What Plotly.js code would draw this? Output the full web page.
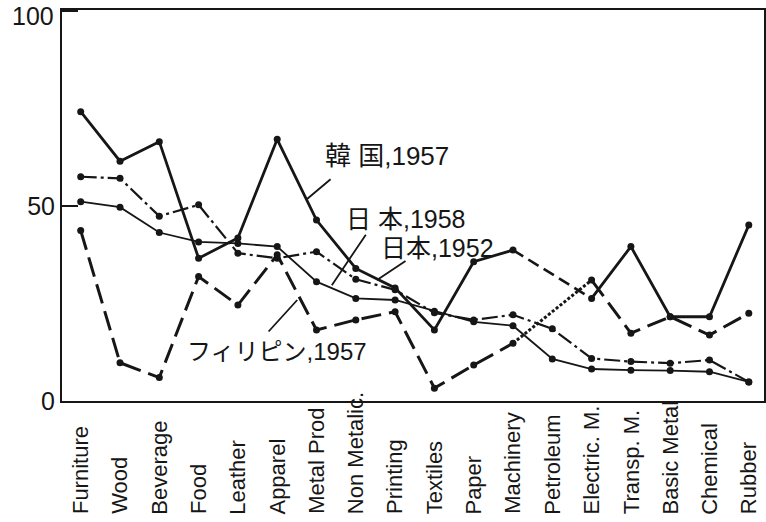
<!DOCTYPE html>
<html>
<head>
<meta charset="utf-8">
<script src="https://cdn.plot.ly/plotly-3.0.1.min.js"></script>
<style>html,body{margin:0;padding:0;background:#fff;}</style>
</head>
<body>
<div id="chart" style="width:766px;height:522px;"></div>
<script>
// ---- data ----
var categories = ["Furniture","Wood","Beverage","Food","Leather","Apparel","Metal Prod","Non Metalic.","Printing","Textiles","Paper","Machinery","Petroleum","Electric. M.","Transp. M.","Basic Metal","Chemical","Rubber"];
var korea1957 = [74.2, 61.5, 66.5, 36.6, 41.8, 67.1, 46.4, 34.0, 29.0, 18.2, 35.7, 38.7, null, 26.3, 39.6, 21.6, 21.6, 45.1];
var koreaGap  = [null, null, null, null, null, null, null, null, null, null, null, 38.7, null, 26.3, null, null, null, null];
var japan1958 = [51.1, 49.7, 43.2, 40.8, 40.4, 39.6, 30.6, 26.3, 25.9, 23.0, 20.3, 19.3, 10.8, 8.2, 7.9, 7.8, 7.5, 4.9];
var japan1952 = [57.5, 57.1, 47.4, 50.3, 37.9, 36.6, 38.3, 31.2, 28.5, 22.6, 20.8, 22.1, 18.5, 10.9, 10.1, 9.7, 10.5, 4.9];
var phil1957  = [43.7, 9.8, 6.0, 31.9, 24.6, 37.5, 18.2, 20.8, 22.9, 3.3, 9.2, 14.8, null, 31.0, 17.4, 21.6, 16.9, 22.5];
var philGap   = [null, null, null, null, null, null, null, null, null, null, null, 14.8, null, 31.0, null, null, null, null];
var yTicks = [0, 50, 100];
var seriesNames = ["韓 国,1957", "日 本,1958", "日本,1952", "フィリピン,1957"];

var ink = "#161616";
var sans = "Liberation Sans, Arial, Noto Sans CJK JP, sans-serif";

function tr(y, name, dash, width, showMarkers, connect) {
  return {
    x: categories, y: y, name: name, type: "scatter",
    mode: showMarkers ? "lines+markers" : "lines",
    connectgaps: !!connect,
    line: {color: ink, width: width, dash: dash},
    marker: {color: ink, size: 7},
    hoverinfo: "skip"
  };
}

var data = [
  tr(japan1958, seriesNames[1], "solid", 1.8, true),
  tr(japan1952, seriesNames[2], "16px,4px,3px,4px", 2.2, true),
  tr(philGap, seriesNames[3], "3px,2px", 3, false, true),
  tr(phil1957, seriesNames[3], "20px,8px", 3, true),
  tr(koreaGap, seriesNames[0], "12px,6px", 2.6, false, true),
  tr(korea1957, seriesNames[0], "solid", 2.8, true)
];

var annotations = [];
categories.forEach(function(c) {
  annotations.push({
    x: c, xref: "x", y: -0.295, yref: "paper",
    text: c, textangle: -90, showarrow: false,
    xanchor: "center", yanchor: "bottom",
    font: {family: sans, size: 22, color: ink}
  });
});

// top y tick label (drawn as annotation because it sits on the plot edge)
annotations.push({
  x: 0, xref: "paper", y: yTicks[yTicks.length - 1], yref: "y",
  text: String(yTicks[yTicks.length - 1]), showarrow: false,
  xanchor: "right", yanchor: "top", xshift: -6, yshift: 11,
  font: {family: sans, size: 25, color: ink}
});

// series labels
function label(text, x, y, size) {
  annotations.push({x: x, y: y, xref: "x", yref: "y", text: text, showarrow: false,
    xanchor: "center", yanchor: "middle", font: {family: sans, size: size, color: ink}});
}
// leader lines (head on the series line, tail toward its label, pixel offsets)
function leader(hx, hy, ax, ay) {
  annotations.push({x: hx, y: hy, xref: "x", yref: "y", ax: ax, ay: ay,
    text: "", showarrow: true, arrowhead: 0, arrowwidth: 1.8, arrowcolor: ink});
}
label(seriesNames[0], 7.79, 62.8, 26);
label(seriesNames[1], 8.28, 46.7, 25);
label(seriesNames[2], 9.07, 39.3, 25);
label(seriesNames[3], 4.99, 12.8, 24);
leader(5.76, 51.8, 25, -21);
leader(6.39, 29.7, 35, -52);
leader(7.54, 31.0, 30, -20);
leader(5.51, 25.9, -30, 33);

var layout = {
  width: 766, height: 522,
  margin: {l: 62, r: 2, t: 10, b: 121},
  paper_bgcolor: "#ffffff", plot_bgcolor: "#ffffff",
  showlegend: false,
  xaxis: {
    type: "category", range: [-0.476, 17.387],
    showticklabels: false, ticks: "", showgrid: false, zeroline: false,
    showline: true, mirror: true, linecolor: ink, linewidth: 2
  },
  yaxis: {
    range: [0, 100.26], tickvals: yTicks, ticktext: yTicks.map(String),
    ticks: "inside", ticklen: 16, tickwidth: 1.8, tickcolor: ink,
    showgrid: false, zeroline: false,
    showline: true, mirror: true, linecolor: ink, linewidth: 2,
    tickfont: {family: sans, size: 25, color: ink}
  },
  annotations: annotations
};

Plotly.newPlot("chart", data, layout, {displayModeBar: false, staticPlot: true});
</script>
</body>
</html>
